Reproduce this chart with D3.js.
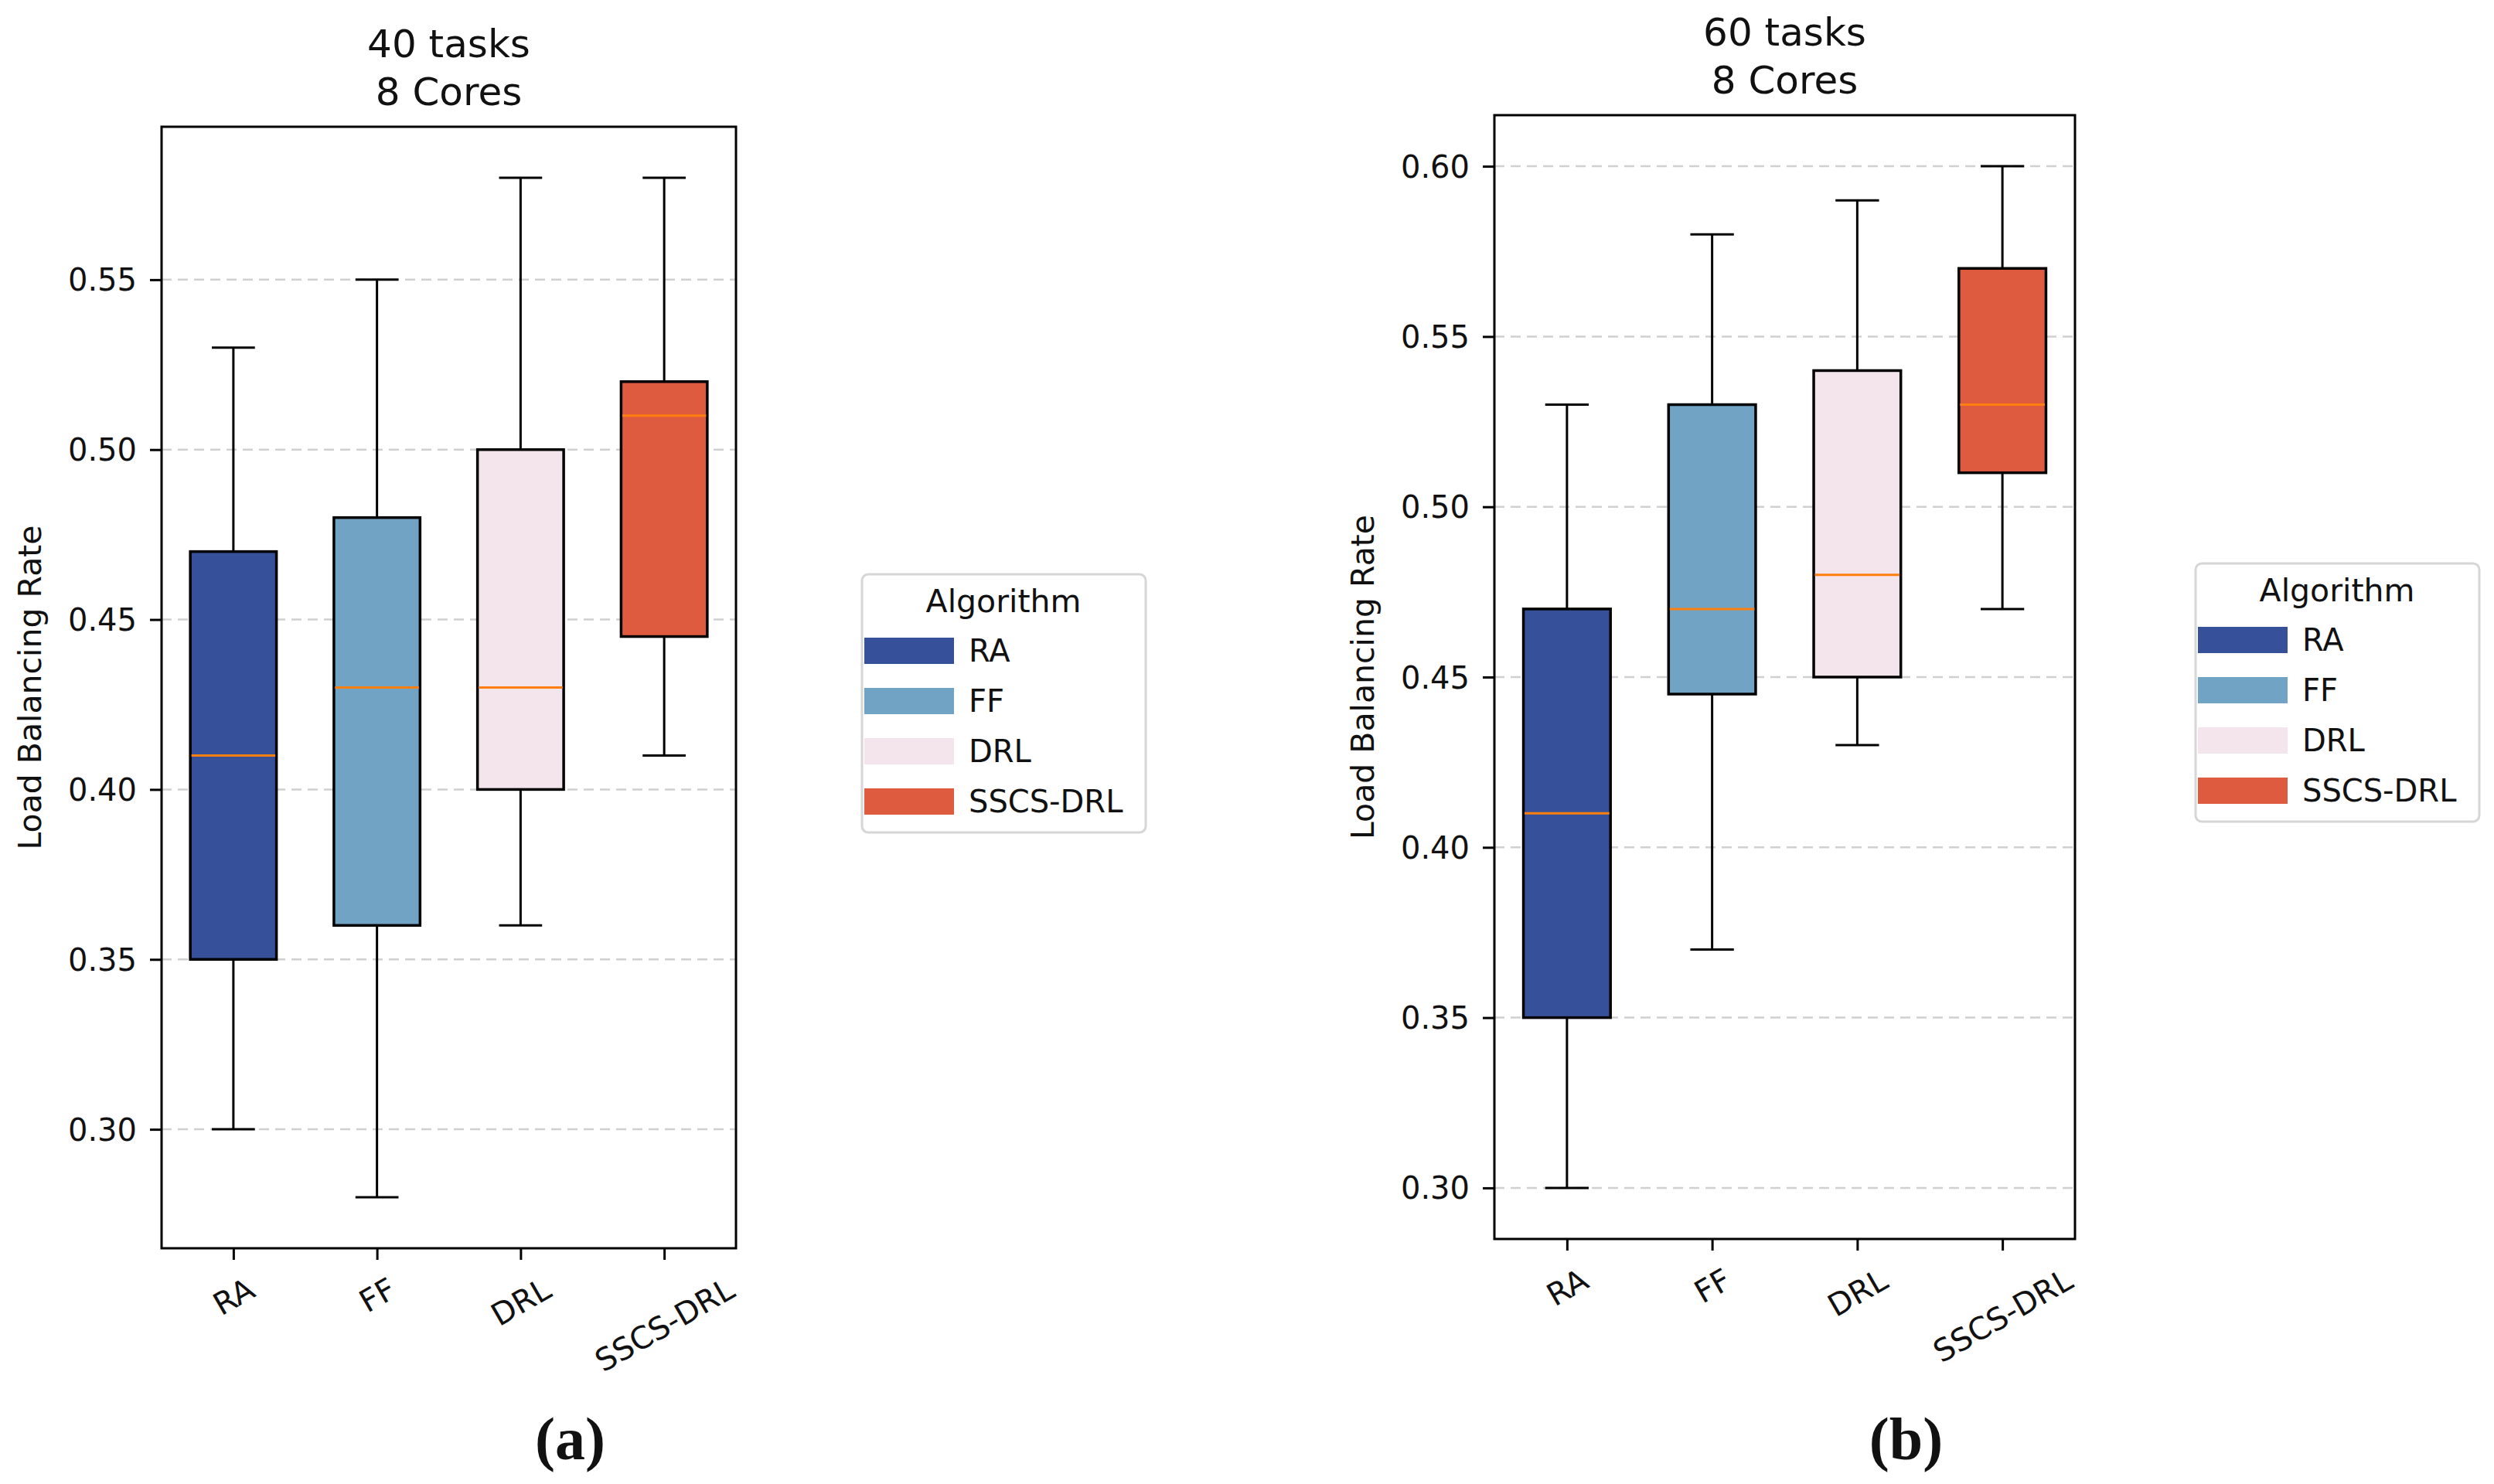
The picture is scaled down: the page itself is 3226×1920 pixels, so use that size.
<!DOCTYPE html>
<html>
<head>
<meta charset="utf-8">
<script src="https://cdn.jsdelivr.net/npm/d3@7"></script>
<style>
  html, body { margin: 0; padding: 0; background: #fff; }
  svg { display: block; }
  text { font-family: "DejaVu Sans", sans-serif; fill: #111; }
  .caption { font-family: "Liberation Serif", "Times New Roman", serif; font-weight: bold; }
</style>
</head>
<body>
<svg id="chart"></svg>
<script>
// categories
const algorithms = ['RA', 'FF', 'DRL', 'SSCS-DRL'];
const algoColors = ['#36509a', '#70a3c4', '#f4e4ec', '#df5b3f'];

// panel (a): 40 tasks, 8 cores
const titleA = ['40 tasks', '8 Cores'];
const lowA  = [0.30, 0.28, 0.36, 0.41];
const q1A   = [0.35, 0.36, 0.40, 0.445];
const medA  = [0.41, 0.43, 0.43, 0.51];
const q3A   = [0.47, 0.48, 0.50, 0.52];
const highA = [0.53, 0.55, 0.58, 0.58];
const ticksA = [0.30, 0.35, 0.40, 0.45, 0.50, 0.55];
const domainA = [0.265, 0.595];

// panel (b): 60 tasks, 8 cores
const titleB = ['60 tasks', '8 Cores'];
const lowB  = [0.30, 0.37, 0.43, 0.47];
const q1B   = [0.35, 0.445, 0.45, 0.51];
const medB  = [0.41, 0.47, 0.48, 0.53];
const q3B   = [0.47, 0.53, 0.54, 0.57];
const highB = [0.53, 0.58, 0.59, 0.60];
const ticksB = [0.30, 0.35, 0.40, 0.45, 0.50, 0.55, 0.60];
const domainB = [0.285, 0.615];

const yLabel = 'Load Balancing Rate';
const legendTitle = 'Algorithm';

const W = 3226, H = 1920;

const panels = [
  { title: titleA, low: lowA, q1: q1A, med: medA, q3: q3A, high: highA, ticks: ticksA, domain: domainA,
    caption: '(a)', box: {left: 209, right: 952, top: 164, bottom: 1615}, legend: {x: 1115, y: 743} },
  { title: titleB, low: lowB, q1: q1B, med: medB, q3: q3B, high: highB, ticks: ticksB, domain: domainB,
    caption: '(b)', box: {left: 1933, right: 2684, top: 149, bottom: 1603}, legend: {x: 2840, y: 729} }
];

const svg = d3.select('#chart')
    .attr('width', W)
    .attr('height', H);

svg.append('rect').attr('width', W).attr('height', H).attr('fill', '#fff');

panels.forEach(p => {
  const b = p.box;
  const g = svg.append('g');

  const x = d3.scalePoint()
      .domain(algorithms)
      .range([b.left, b.right])
      .padding(0.5);
  const y = d3.scaleLinear()
      .domain(p.domain)
      .range([b.bottom, b.top]);

  const boxW = x.step() * 0.6;
  const capW = boxW / 2;

  // gridlines
  g.append('g').selectAll('line')
      .data(p.ticks)
    .join('line')
      .attr('x1', b.left).attr('x2', b.right)
      .attr('y1', d => y(d)).attr('y2', d => y(d))
      .attr('stroke', '#d0d0d0')
      .attr('stroke-width', 2.5)
      .attr('stroke-dasharray', '13,8');

  const rows = algorithms.map((a, i) => ({
    name: a, color: algoColors[i],
    low: p.low[i], q1: p.q1[i], med: p.med[i], q3: p.q3[i], high: p.high[i]
  }));

  const boxes = g.append('g').selectAll('g')
      .data(rows)
    .join('g');

  // whiskers
  boxes.append('line')
      .attr('x1', d => x(d.name)).attr('x2', d => x(d.name))
      .attr('y1', d => y(d.low)).attr('y2', d => y(d.q1))
      .attr('stroke', '#000').attr('stroke-width', 3);
  boxes.append('line')
      .attr('x1', d => x(d.name)).attr('x2', d => x(d.name))
      .attr('y1', d => y(d.q3)).attr('y2', d => y(d.high))
      .attr('stroke', '#000').attr('stroke-width', 3);
  // caps
  ['low', 'high'].forEach(k => {
    boxes.append('line')
        .attr('x1', d => x(d.name) - capW / 2).attr('x2', d => x(d.name) + capW / 2)
        .attr('y1', d => y(d[k])).attr('y2', d => y(d[k]))
        .attr('stroke', '#000').attr('stroke-width', 3);
  });
  // box
  boxes.append('rect')
      .attr('x', d => x(d.name) - boxW / 2)
      .attr('width', boxW)
      .attr('y', d => y(d.q3))
      .attr('height', d => y(d.q1) - y(d.q3))
      .attr('fill', d => d.color)
      .attr('stroke', '#000')
      .attr('stroke-width', 3.5);
  // median
  boxes.append('line')
      .attr('x1', d => x(d.name) - boxW / 2 + 1.5).attr('x2', d => x(d.name) + boxW / 2 - 1.5)
      .attr('y1', d => y(d.med)).attr('y2', d => y(d.med))
      .attr('stroke', '#ff7f0e').attr('stroke-width', 3);

  // y axis
  const yAxis = d3.axisLeft(y)
      .tickValues(p.ticks)
      .tickFormat(d3.format('.2f'))
      .tickSize(15)
      .tickPadding(17);
  const yG = g.append('g')
      .attr('transform', `translate(${b.left},0)`)
      .call(yAxis);
  yG.select('.domain').remove();
  yG.selectAll('line').attr('stroke', '#000').attr('stroke-width', 3);
  yG.selectAll('text')
      .attr('dy', '0.35em')
      .style('font-size', '40px')
      .style('font-family', '"DejaVu Sans", sans-serif')
      .attr('fill', '#222');

  // x axis
  const xAxis = d3.axisBottom(x).tickSize(15).tickPadding(14);
  const xG = g.append('g')
      .attr('transform', `translate(0,${b.bottom})`)
      .call(xAxis);
  xG.select('.domain').remove();
  xG.selectAll('line').attr('stroke', '#000').attr('stroke-width', 3);
  xG.selectAll('text')
      .style('font-size', '40px')
      .style('font-family', '"DejaVu Sans", sans-serif')
      .attr('fill', '#222')
      .attr('text-anchor', 'middle')
      .attr('y', null)
      .attr('dy', '0.35em')
      .each(function() {
        const w = this.getComputedTextLength();
        const h = 40 * 1.164;
        const rotH = w * 0.5 + h * Math.cos(Math.PI / 6);
        const cy = 15 + 14 + rotH / 2;
        d3.select(this).attr('transform', `translate(0,${cy}) rotate(-30)`);
      });

  // frame
  g.append('rect')
      .attr('x', b.left).attr('y', b.top)
      .attr('width', b.right - b.left).attr('height', b.bottom - b.top)
      .attr('fill', 'none')
      .attr('stroke', '#000')
      .attr('stroke-width', 3);

  // title
  const cx = (b.left + b.right) / 2;
  g.append('text')
      .attr('x', cx).attr('y', b.top - 90)
      .attr('text-anchor', 'middle')
      .style('font-size', '50px')
      .text(p.title[0]);
  g.append('text')
      .attr('x', cx).attr('y', b.top - 28)
      .attr('text-anchor', 'middle')
      .style('font-size', '50px')
      .text(p.title[1]);

  // y label
  const ly = (b.top + b.bottom) / 2;
  g.append('text')
      .attr('transform', `translate(${b.left - 156},${ly}) rotate(-90)`)
      .attr('text-anchor', 'middle')
      .style('font-size', '41px')
      .attr('fill', '#222')
      .text(yLabel);

  // legend
  const L = p.legend;
  const lg = g.append('g').attr('transform', `translate(${L.x},${L.y})`);
  lg.append('rect')
      .attr('width', 367).attr('height', 334)
      .attr('rx', 8)
      .attr('fill', '#fff')
      .attr('stroke', '#d6d6d6')
      .attr('stroke-width', 3);
  lg.append('text')
      .attr('x', 183).attr('y', 49)
      .attr('text-anchor', 'middle')
      .style('font-size', '41px')
      .attr('fill', '#222')
      .text(legendTitle);
  const items = lg.selectAll('g.item')
      .data(algorithms)
    .join('g')
      .attr('class', 'item')
      .attr('transform', (d, i) => `translate(0,${82 + i * 65})`);
  items.append('rect')
      .attr('x', 3).attr('width', 116).attr('height', 34)
      .attr('fill', (d, i) => algoColors[i]);
  items.append('text')
      .attr('x', 138).attr('y', 31)
      .style('font-size', '40px')
      .attr('fill', '#222')
      .text(d => d);

  // caption
  g.append('text')
      .attr('class', 'caption')
      .attr('x', cx + 157).attr('y', 1888)
      .attr('text-anchor', 'middle')
      .style('font-size', '78px')
      .text(p.caption);
});
</script>
</body>
</html>
